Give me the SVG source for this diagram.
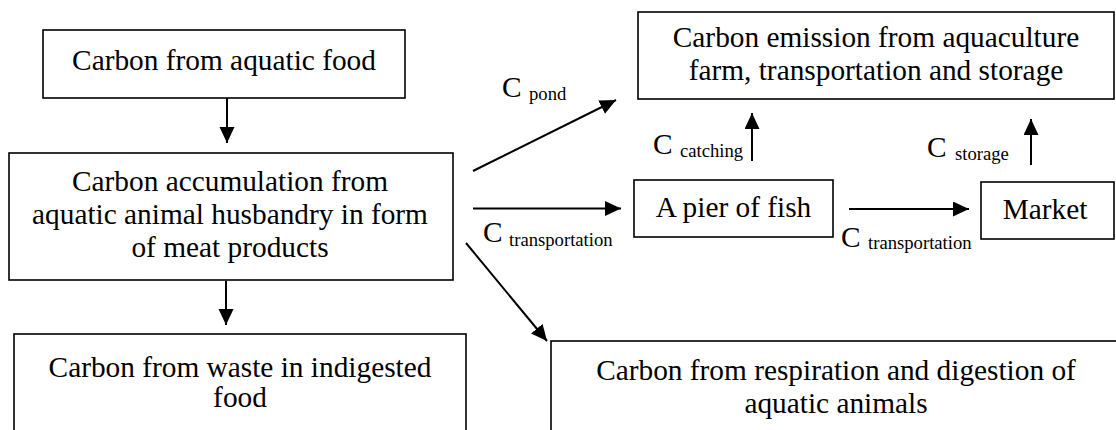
<svg xmlns="http://www.w3.org/2000/svg" width="1116" height="430" viewBox="0 0 1116 430">
<defs>
<marker id="ah" markerUnits="userSpaceOnUse" markerWidth="17" markerHeight="16" refX="16" refY="7.5" orient="auto">
<path d="M0,0 L16,7.5 L0,15 z" fill="#000"/>
</marker>
<style>
.box{fill:#fff;stroke:#000;stroke-width:1.6}
.t{font-family:"Liberation Serif","Times New Roman",serif;font-size:29.33px;fill:#000;text-anchor:middle}
.l{font-family:"Liberation Serif","Times New Roman",serif;font-size:29.33px;fill:#000}
.s{font-size:18.67px}
.c{stroke:#000;stroke-width:2;fill:none;marker-end:url(#ah)}
</style>
</defs>
<rect width="1116" height="430" fill="#fff"/>
<g id="connectors">
<line class="c" x1="227" y1="98" x2="227" y2="143"/>
<line class="c" x1="226" y1="281" x2="226" y2="325"/>
<line class="c" x1="473" y1="171" x2="616" y2="100"/>
<line class="c" x1="473" y1="208.5" x2="621" y2="208.5"/>
<line class="c" x1="466" y1="243" x2="547" y2="341"/>
<line class="c" x1="752" y1="161" x2="752" y2="113"/>
<line class="c" x1="849" y1="209" x2="969" y2="209"/>
<line class="c" x1="1031" y1="165" x2="1031" y2="119"/>
<text class="l" x="502" y="97">C<tspan class="s" x="529" y="100">pond</tspan></text>
<text class="l" x="653" y="154">C<tspan class="s" x="680" y="157">catching</tspan></text>
<text class="l" x="927" y="157">C<tspan class="s" x="955" y="160">storage</tspan></text>
<text class="l" x="483" y="242">C<tspan class="s" x="509" y="246">transportation</tspan></text>
<text class="l" x="841" y="247">C<tspan class="s" x="868" y="249">transportation</tspan></text>
</g>
<g id="food">
<rect class="box" x="43" y="30" width="362" height="68"/>
<text class="t" x="224" y="70">Carbon from aquatic food</text>
</g>
<g id="accumulation">
<rect class="box" x="9" y="153" width="444" height="127"/>
<text class="t" x="230" y="191">Carbon accumulation from</text>
<text class="t" x="230" y="224">aquatic animal husbandry in form</text>
<text class="t" x="230" y="257">of meat products</text>
</g>
<g id="waste">
<rect class="box" x="14" y="334" width="452" height="120"/>
<text class="t" x="240" y="377">Carbon from waste in indigested</text>
<text class="t" x="240" y="407">food</text>
</g>
<g id="emission">
<rect class="box" x="638" y="12" width="476" height="87"/>
<text class="t" x="876" y="47">Carbon emission from aquaculture</text>
<text class="t" x="876" y="80">farm, transportation and storage</text>
</g>
<g id="pier">
<rect class="box" x="634" y="180" width="199" height="57"/>
<text class="t" x="733.5" y="217">A pier of fish</text>
</g>
<g id="market">
<rect class="box" x="981" y="182" width="133" height="57"/>
<text class="t" x="1045" y="219">Market</text>
</g>
<g id="respiration">
<rect class="box" x="551" y="341" width="580" height="120"/>
<text class="t" x="836" y="380">Carbon from respiration and digestion of</text>
<text class="t" x="836" y="413">aquatic animals</text>
</g>
</svg>
